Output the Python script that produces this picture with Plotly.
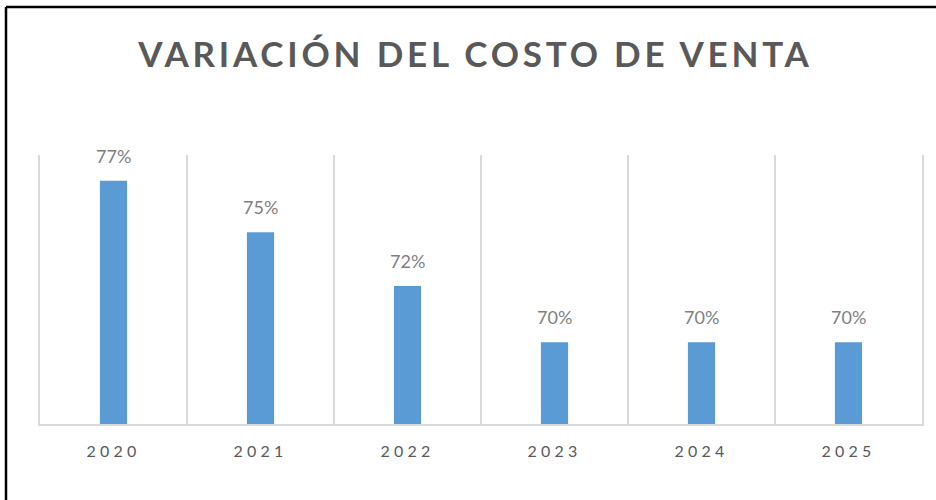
import plotly.graph_objects as go

years = ["2020", "2021", "2022", "2023", "2024", "2025"]
cost_ratio = [0.769, 0.747, 0.724, 0.700, 0.700, 0.700]
title_text = "VARIACIÓN DEL COSTO DE VENTA"

bar_color = "#5B9BD5"
grid_color = "#D9D9D9"
text_gray = "#595959"
font_family = "Lato, 'Open Sans', sans-serif"

x_labels = [f"<span style='letter-spacing:4.2px'>{y}</span>" for y in years]

fig = go.Figure()
fig.add_trace(go.Bar(
    x=x_labels, y=cost_ratio, marker=dict(color=bar_color, line=dict(width=0)),
    width=0.185, hoverinfo="skip",
))

for lab, v in zip(x_labels, cost_ratio):
    fig.add_annotation(
        x=lab, y=v, text=f"{v:.0%}", showarrow=False, yanchor="bottom",
        yshift=12, font=dict(family=font_family, size=18, color="#7F7F7F"),
    )

fig.update_layout(
    width=936, height=500,
    margin=dict(l=40, r=14, t=155, b=76),
    paper_bgcolor="white", plot_bgcolor="white",
    showlegend=False,
    title=dict(
        text=f"<span style='letter-spacing:3.8px'><b>{title_text}</b></span>",
        x=0.508, xanchor="center", y=0.89, yanchor="middle",
        font=dict(family=font_family, size=35, color=text_gray),
    ),
    xaxis=dict(
        type="category", tickson="boundaries", showgrid=True, gridcolor=grid_color,
        gridwidth=2, showline=True, linecolor=grid_color, linewidth=2, ticks="",
        tickangle=0,
        tickfont=dict(family=font_family, size=16, color=text_gray),
        ticklabelstandoff=12, fixedrange=True,
    ),
    yaxis=dict(
        range=[0.665, 0.78], showgrid=False, zeroline=False, showticklabels=False,
        ticks="", showline=True, mirror=True, linecolor=grid_color, linewidth=2,
        fixedrange=True,
    ),
    shapes=[
        dict(type="line", xref="paper", yref="paper",
             x0=(6 - 40) / 882, x1=(6 - 40) / 882,
             y0=(76 - 520) / 269, y1=(500 - 7 - 76) / 269,
             line=dict(color="black", width=2.5), layer="above"),
        dict(type="line", xref="paper", yref="paper",
             x0=(6 - 40) / 882, x1=(1000 - 40) / 882,
             y0=(500 - 7 - 76) / 269, y1=(500 - 7 - 76) / 269,
             line=dict(color="black", width=2.5), layer="above"),
    ],
)

fig.write_html(
    "out.html",
    config={"displayModeBar": False},
    post_script="document.body.style.margin='0px';document.body.style.overflow='hidden';",
)
